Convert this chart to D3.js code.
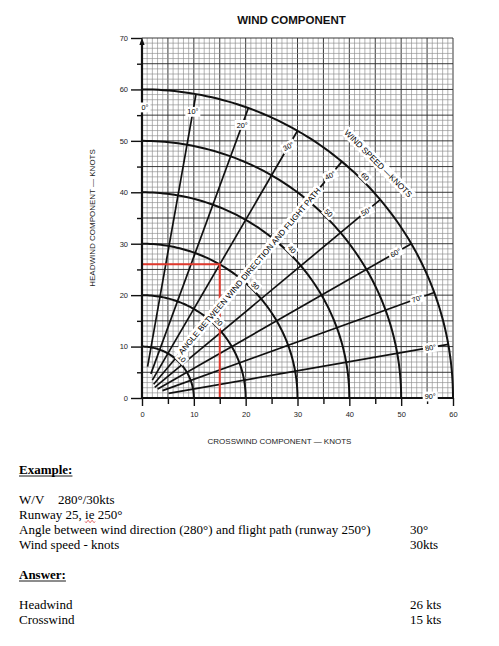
<!DOCTYPE html>
<html>
<head>
<meta charset="utf-8">
<script src="https://cdn.jsdelivr.net/npm/d3@7"></script>
<style>
body { margin: 0; background: #fff; }
svg { display: block; }
</style>
</head>
<body>
<svg id="chart" width="499" height="646"></svg>
<script>
'use strict';

/*---------------------------------------------------------------
data
---------------------------------------------------------------*/
var windSpeeds = [10, 20, 30, 40, 50, 60];
var angles = [10, 20, 30, 40, 50, 60, 70, 80];
var angleStart = [6.2, 5, 4, 3.5, 3.2, 3.5, 4.2, 5.2]; // radius (kt) where each angle line begins
var angleLabels = [0, 10, 20, 30, 40, 50, 60, 70, 80, 90];
var xTicks = [0, 10, 20, 30, 40, 50, 60];
var xMinor = [5, 15, 25, 35, 45, 55];
var yTicks = [0, 10, 20, 30, 40, 50, 60, 70];
var yMinor = [5, 15, 25, 35, 45, 55, 65];

// worked example
var windDir = 280, runwayHdg = 250, runwayNo = 25, windKts = 30;
var exampleAngle = 30;
var headwind = 26, crosswind = 15;

/*---------------------------------------------------------------
scales
---------------------------------------------------------------*/
var x = d3.scaleLinear().domain([0, 60]).range([142, 453]);
var y = d3.scaleLinear().domain([0, 70]).range([398, 38]);

function pt(r, deg) {
    var a = deg * Math.PI / 180;
    return [x(r * Math.sin(a)), y(r * Math.cos(a))];
}

var svg = d3.select('#chart');
var sans = 'Liberation Sans, Arial, sans-serif';

/*---------------------------------------------------------------
grid
---------------------------------------------------------------*/
var grid = svg.append('g');
grid.selectAll('line.v')
    .data(d3.range(0, 61))
    .enter().append('line')
    .attr('x1', function(d) { return x(d); })
    .attr('x2', function(d) { return x(d); })
    .attr('y1', y(0)).attr('y2', y(70))
    .attr('stroke', function(d) { return d % 5 ? '#8c8c8c' : '#2e2e2e'; })
    .attr('stroke-width', function(d) { return d % 5 ? 0.65 : 0.95; });
grid.selectAll('line.h')
    .data(d3.range(0, 71))
    .enter().append('line')
    .attr('y1', function(d) { return y(d); })
    .attr('y2', function(d) { return y(d); })
    .attr('x1', x(0)).attr('x2', x(60))
    .attr('stroke', function(d) { return d % 5 ? '#8c8c8c' : '#2e2e2e'; })
    .attr('stroke-width', function(d) { return d % 5 ? 0.65 : 0.95; });

/*---------------------------------------------------------------
wind speed arcs + angle lines
---------------------------------------------------------------*/
var arc = d3.line();
svg.append('g').selectAll('path')
    .data(windSpeeds)
    .enter().append('path')
    .attr('d', function(r) {
        return arc(d3.range(0, 90.5, 1).map(function(a) { return pt(r, a); }));
    })
    .attr('fill', 'none')
    .attr('stroke', '#111')
    .attr('stroke-width', 2);

svg.append('g').selectAll('line')
    .data(angles)
    .enter().append('line')
    .each(function(a, i) {
        var p0 = pt(angleStart[i], a), p1 = pt(60, a);
        d3.select(this).attr('x1', p0[0]).attr('y1', p0[1]).attr('x2', p1[0]).attr('y2', p1[1]);
    })
    .attr('stroke', '#111')
    .attr('stroke-width', 1.7);

/*---------------------------------------------------------------
example lines (red)
---------------------------------------------------------------*/
svg.append('path')
    .attr('d', 'M' + x(0) + ',' + y(headwind) + 'H' + x(crosswind) + 'V' + y(0))
    .attr('fill', 'none')
    .attr('stroke', '#e0392d')
    .attr('stroke-width', 2);

/*---------------------------------------------------------------
axes
---------------------------------------------------------------*/
function styleAxis(g) {
    g.select('.domain').remove();
    g.selectAll('.tick line').attr('stroke', '#111').attr('stroke-width', 1.4);
    g.selectAll('.tick text').attr('font-family', sans).attr('font-size', 7.5).attr('fill', '#222');
}

svg.append('g').attr('transform', 'translate(0,' + y(0) + ')')
    .call(d3.axisBottom(x).tickValues(xTicks).tickSize(8).tickPadding(6))
    .call(styleAxis);
svg.append('g').attr('transform', 'translate(0,' + y(0) + ')')
    .call(d3.axisBottom(x).tickValues(xMinor).tickSize(6).tickFormat(''))
    .call(styleAxis);
svg.append('g').attr('transform', 'translate(' + x(0) + ',0)')
    .call(d3.axisLeft(y).tickValues(yTicks).tickSize(11).tickPadding(3))
    .call(styleAxis);
svg.append('g').attr('transform', 'translate(' + x(0) + ',0)')
    .call(d3.axisLeft(y).tickValues(yMinor).tickSize(5).tickFormat(''))
    .call(styleAxis);

svg.append('line')
    .attr('x1', x(0) - 1).attr('x2', x(60) + 1)
    .attr('y1', y(0)).attr('y2', y(0))
    .attr('stroke', '#111').attr('stroke-width', 2.2);
svg.append('line')
    .attr('x1', x(0)).attr('x2', x(0))
    .attr('y1', y(0) + 1).attr('y2', y(70) + 4)
    .attr('stroke', '#111').attr('stroke-width', 2.2);
svg.append('path')
    .attr('d', 'M' + x(0) + ',' + (y(70) - 0.5) + 'l-2.6,7.5h5.2z')
    .attr('fill', '#111');

/*---------------------------------------------------------------
labels with white boxes
---------------------------------------------------------------*/
var labelLayer = svg.append('g');

function boxLabel(str, cx, cy, rot, size, px, fit) {
    var g = labelLayer.append('g')
        .attr('transform', 'translate(' + cx + ',' + cy + ') rotate(' + rot + ')');
    var box = g.append('rect').attr('fill', '#ffffff').attr('stroke', 'none');
    var t = g.append('text')
        .attr('x', 0).attr('y', 0)
        .attr('text-anchor', 'middle')
        .attr('dy', '0.36em')
        .attr('font-family', sans)
        .attr('font-size', size)
        .attr('fill', '#000')
        .text(str);
    if (fit) t.attr('textLength', fit).attr('lengthAdjust', 'spacingAndGlyphs');
    var w = fit || t.node().getComputedTextLength();
    var h = size * 1.35;
    box.attr('x', -w / 2 - px).attr('y', -h / 2)
        .attr('width', w + 2 * px).attr('height', h);
    return t;
}

// angle labels
angleLabels.forEach(function(a) {
    var p = pt(56.5, a);
    var rot = a <= 20 ? 0 : -Math.min(28, (90 - a) * 0.95);
    if (a === 0) p[0] += 3;
    if (a === 90) { p = pt(55.6, a); p[1] -= 1.5; rot = 0; }
    boxLabel(a + '°', p[0], p[1], rot, 7.3, 2);
});

// speed labels along the 45 degree diagonal
windSpeeds.forEach(function(r) {
    var p = pt(r + 0.9, 45);
    boxLabel(String(r), p[0], p[1], 45, 7.3, 1.6);
});

// angle caption on the 40 degree line
(function() {
    var a0 = pt(11, 40), a1 = pt(53.5, 40);
    var c = pt(32.25, 40);
    var rot = Math.atan2(a1[1] - a0[1], a1[0] - a0[0]) * 180 / Math.PI;
    var len = Math.hypot(a1[0] - a0[0], a1[1] - a0[1]);
    boxLabel('ANGLE BETWEEN WIND DIRECTION AND FLIGHT PATH', c[0], c[1], rot, 8, 2, len - 4);
})();

// wind speed caption outside the 60 kt arc
(function() {
    var c = pt(64.5, 45);
    boxLabel('WIND SPEED —KNOTS', c[0], c[1], 45, 8.3, 2);
})();

/*---------------------------------------------------------------
titles
---------------------------------------------------------------*/
svg.append('text')
    .attr('x', 291.5).attr('y', 24)
    .attr('text-anchor', 'middle')
    .attr('font-family', sans).attr('font-weight', 'bold').attr('font-size', 11.5)
    .attr('fill', '#111')
    .text('WIND COMPONENT');

svg.append('text')
    .attr('x', 279.5).attr('y', 444)
    .attr('text-anchor', 'middle')
    .attr('font-family', sans).attr('font-size', 8)
    .attr('fill', '#222')
    .text('CROSSWIND COMPONENT — KNOTS');

svg.append('text')
    .attr('transform', 'translate(94.5,218) rotate(-90)')
    .attr('text-anchor', 'middle')
    .attr('font-family', sans).attr('font-size', 8)
    .attr('fill', '#222')
    .text('HEADWIND COMPONENT — KNOTS');

/*---------------------------------------------------------------
worked example text
---------------------------------------------------------------*/
var rows = [
    { t: 'Example:', head: true },
    null,
    { t: 'W/V', t2: windDir + '°/' + windKts + 'kts' },
    { t: 'Runway ' + runwayNo + ', ie ' + runwayHdg + '°', squiggle: 'ie' },
    { t: 'Angle between wind direction (' + windDir + '°) and flight path (runway ' + runwayHdg + '°)', r: exampleAngle + '°' },
    { t: 'Wind speed - knots', r: windKts + 'kts' },
    null,
    { t: 'Answer:', head: true },
    null,
    { t: 'Headwind', r: headwind + ' kts' },
    { t: 'Crosswind', r: crosswind + ' kts' }
];

var serif = 'Liberation Serif, Times New Roman, serif';
var notes = svg.append('g')
    .attr('font-family', serif)
    .attr('font-size', 13)
    .attr('fill', '#000');

rows.forEach(function(row, i) {
    if (!row) return;
    var by = 474 + i * 15;
    var t = notes.append('text').attr('x', 19).attr('y', by).text(row.t);
    if (row.head) {
        t.attr('font-weight', 'bold');
        var w = t.node().getComputedTextLength();
        notes.append('line')
            .attr('x1', 19).attr('x2', 19 + w)
            .attr('y1', by + 2).attr('y2', by + 2)
            .attr('stroke', '#000').attr('stroke-width', 0.9);
    }
    if (row.t2) {
        notes.append('text').attr('x', 58).attr('y', by).text(row.t2);
    }
    if (row.r) {
        notes.append('text').attr('x', 410).attr('y', by).text(row.r);
    }
    if (row.squiggle) {
        var k = row.t.indexOf(row.squiggle);
        var node = t.node();
        var sx = 19 + node.getSubStringLength(0, k);
        var sw = node.getSubStringLength(k, row.squiggle.length);
        var d = 'M' + sx + ',' + (by + 2.5);
        for (var s = 0; s < sw; s += 2) {
            d += 'l1,' + ((s / 2) % 2 ? -1.2 : 1.2) + 'l1,' + ((s / 2) % 2 ? 1.2 : -1.2);
        }
        notes.append('path').attr('d', d).attr('fill', 'none')
            .attr('stroke', '#d02020').attr('stroke-width', 0.7);
    }
});
</script>
</body>
</html>
